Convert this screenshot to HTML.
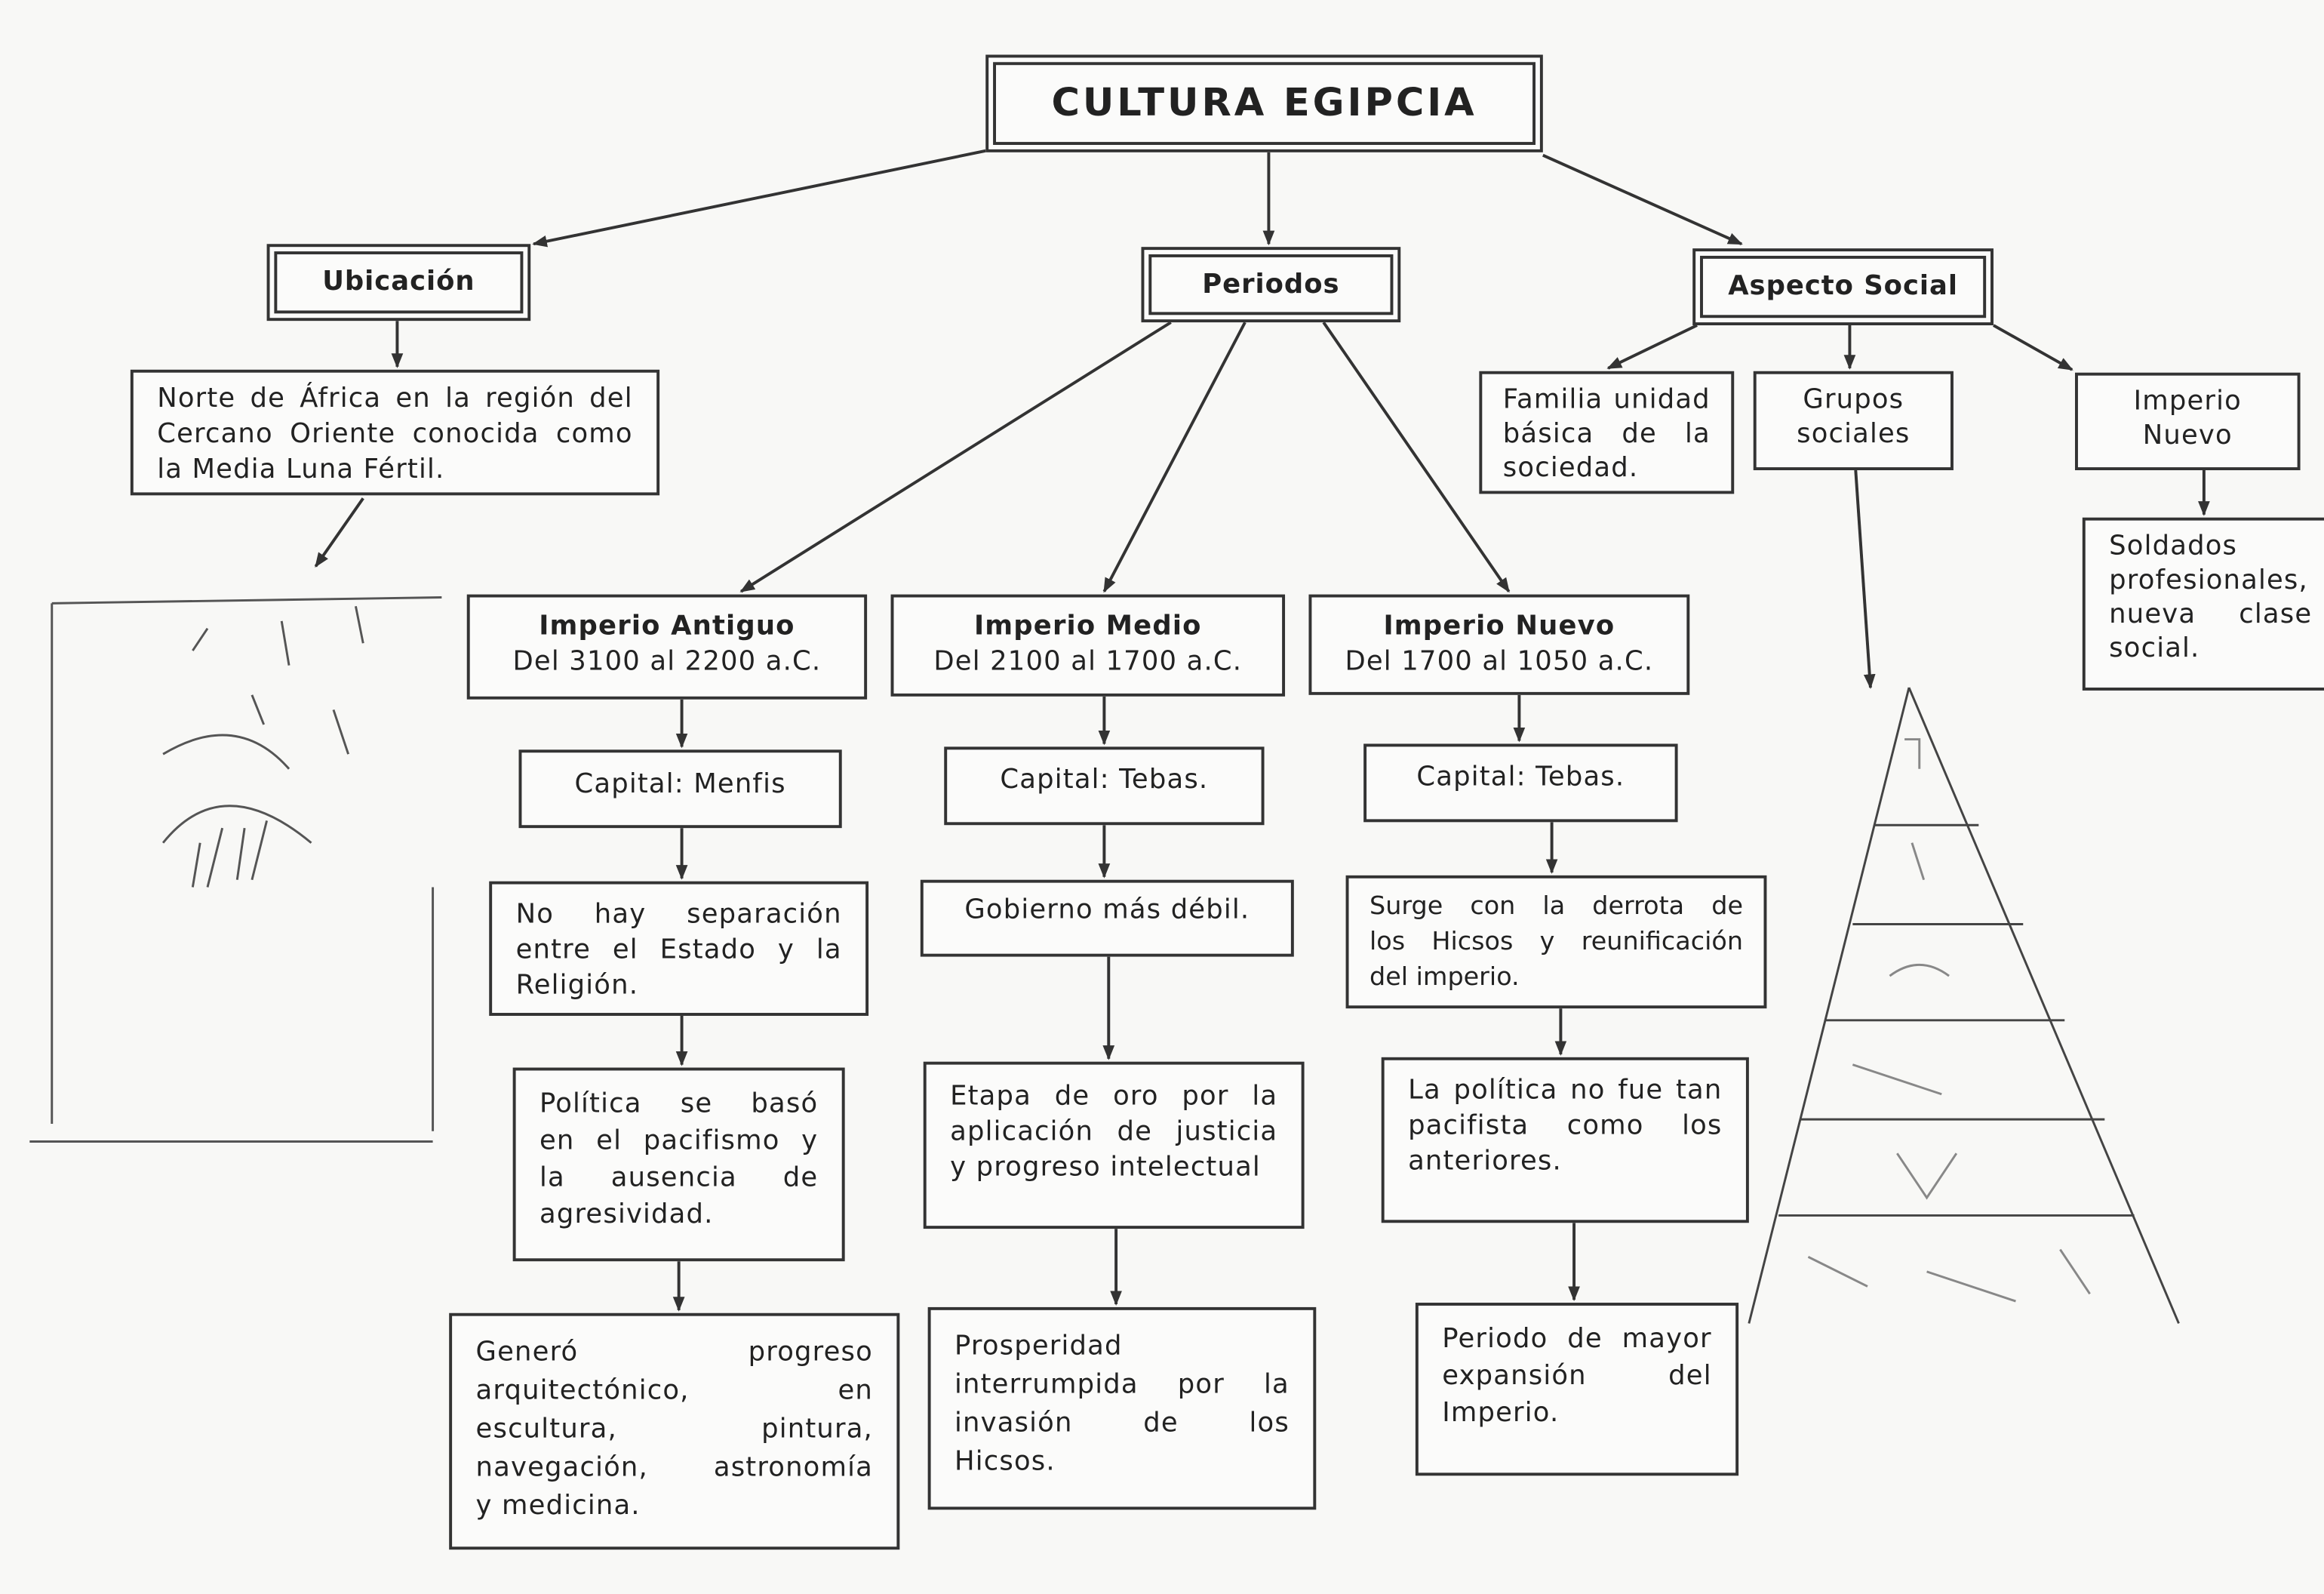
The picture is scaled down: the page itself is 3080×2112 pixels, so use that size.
<!DOCTYPE html>
<html><head><meta charset="utf-8">
<style>
html,body{margin:0;padding:0;background:#f8f8f6;}
#wrap{width:3080px;height:2112px;overflow:hidden;position:relative;background:#f8f8f6;}
#c{position:absolute;left:0;top:0;width:1568px;height:1078px;transform-origin:0 0;transform:scale(1.96429,1.95918);font-family:"DejaVu Sans","Liberation Sans",sans-serif;color:#222;}
.b{position:absolute;box-sizing:border-box;border:2px solid #333;background:#fbfbfa;font-size:18px;letter-spacing:0.6px;line-height:24px;padding:6px 16px;}
.b div{white-space:nowrap;text-align:justify;text-align-last:justify;}
.b div:last-child{text-align-last:left;}
.d{border:2px solid #333;outline:2px solid #333;outline-offset:-7px;text-align:center;font-weight:bold;font-size:18px;letter-spacing:0.5px;display:flex;align-items:center;justify-content:center;}
.cn{text-align:center;}
svg{position:absolute;left:0;top:0;}
</style></head><body><div id="wrap"><div id="c">
<svg width="1568" height="1078" viewBox="0 0 1568 1078">
<defs><marker id="a" markerWidth="10" markerHeight="10" refX="9" refY="5" orient="auto" markerUnits="userSpaceOnUse"><path d="M0,1 L10,5 L0,9 z" fill="#333"/></marker></defs>
<g stroke="#333" stroke-width="2" fill="none" marker-end="url(#a)">
<line x1="665" y1="102" x2="360" y2="165"/>
<line x1="856" y1="103" x2="856" y2="165"/>
<line x1="1041" y1="105" x2="1175" y2="165"/>
<line x1="268" y1="217" x2="268" y2="248"/>
<line x1="245" y1="337" x2="213" y2="383"/>
<line x1="790" y1="218" x2="500" y2="400"/>
<line x1="840" y1="218" x2="745" y2="400"/>
<line x1="893" y1="218" x2="1018" y2="400"/>
<line x1="460" y1="473" x2="460" y2="505"/>
<line x1="745" y1="471" x2="745" y2="503"/>
<line x1="1025" y1="470" x2="1025" y2="501"/>
<line x1="460" y1="560" x2="460" y2="594"/>
<line x1="745" y1="558" x2="745" y2="593"/>
<line x1="1047" y1="556" x2="1047" y2="590"/>
<line x1="460" y1="687" x2="460" y2="720"/>
<line x1="748" y1="647" x2="748" y2="716"/>
<line x1="1053" y1="682" x2="1053" y2="713"/>
<line x1="458" y1="853" x2="458" y2="886"/>
<line x1="753" y1="831" x2="753" y2="882"/>
<line x1="1062" y1="827" x2="1062" y2="879"/>
<line x1="1145" y1="220" x2="1085" y2="249"/>
<line x1="1248" y1="220" x2="1248" y2="249"/>
<line x1="1345" y1="220" x2="1398" y2="250"/>
<line x1="1487" y1="318" x2="1487" y2="348"/>
<line x1="1252" y1="318" x2="1262" y2="465"/>
</g>
<g stroke="#555" stroke-width="1.5" fill="none">
<path d="M35,408 L298,404"/><path d="M35,408 L35,760"/><path d="M20,772 L292,772"/><path d="M292,600 L292,765"/>
<path d="M110,510 Q160,480 195,520"/><path d="M110,570 Q150,520 210,570"/>
<path d="M130,440 l10,-15 M190,420 l5,30 M240,410 l5,25 M170,470 l8,20 M225,480 l10,30 M150,560 l-10,40 M165,560 l-5,35 M180,555 l-10,40 M135,570 l-5,30"/>
</g>
<g stroke="#444" stroke-width="1.5" fill="none">
<path d="M1288,465 L1180,895 M1288,465 L1470,895"/>
<line x1="1265" y1="558" x2="1335" y2="558"/>
<line x1="1250" y1="625" x2="1365" y2="625"/>
<line x1="1232" y1="690" x2="1393" y2="690"/>
<line x1="1215" y1="757" x2="1420" y2="757"/>
<line x1="1200" y1="822" x2="1440" y2="822"/>
<path d="M1285,500 l10,0 l0,20 M1290,570 l8,25 M1275,660 q20,-15 40,0 M1250,720 l60,20 M1280,780 l20,30 l20,-30 M1220,850 l40,20 M1300,860 l60,20 M1390,845 l20,30" stroke="#888"/>
</g>
</svg>

<div class="b d" style="left:665px;top:37px;width:376px;height:66px;font-size:26px;letter-spacing:2px;">CULTURA EGIPCIA</div>
<div class="b d" style="left:180px;top:165px;width:178px;height:52px;">Ubicación</div>
<div class="b d" style="left:770px;top:167px;width:175px;height:51px;">Periodos</div>
<div class="b d" style="left:1142px;top:168px;width:203px;height:52px;">Aspecto Social</div>

<div class="b" style="left:88px;top:250px;width:357px;height:85px;padding:6px 16px;"><div>Norte de África en la región del</div><div>Cercano Oriente conocida como</div><div>la Media Luna Fértil.</div></div>

<div class="b cn" style="left:315px;top:402px;width:270px;height:71px;padding:8px 4px 0;"><b>Imperio Antiguo</b><br>Del 3100 al 2200 a.C.</div>
<div class="b cn" style="left:601px;top:402px;width:266px;height:69px;padding:8px 4px 0;"><b>Imperio Medio</b><br>Del 2100 al 1700 a.C.</div>
<div class="b cn" style="left:883px;top:402px;width:257px;height:68px;padding:8px 4px 0;"><b>Imperio Nuevo</b><br>Del 1700 al 1050 a.C.</div>

<div class="b cn" style="left:350px;top:507px;width:218px;height:53px;padding-top:10px;">Capital: Menfis</div>
<div class="b cn" style="left:637px;top:505px;width:216px;height:53px;padding-top:9px;">Capital: Tebas.</div>
<div class="b cn" style="left:920px;top:503px;width:212px;height:53px;padding-top:9px;">Capital: Tebas.</div>

<div class="b" style="left:330px;top:596px;width:256px;height:91px;padding-top:9px;"><div>No hay separación</div><div>entre el Estado y la</div><div>Religión.</div></div>
<div class="b cn" style="left:621px;top:595px;width:252px;height:52px;padding-top:7px;">Gobierno más débil.</div>
<div class="b" style="left:908px;top:592px;width:284px;height:90px;padding:7px 14px;font-size:17px;letter-spacing:0;"><div>Surge con la derrota de</div><div>los Hicsos y reunificación</div><div>del imperio.</div></div>

<div class="b" style="left:346px;top:722px;width:224px;height:131px;padding-top:10px;line-height:25px;"><div>Política se basó</div><div>en el pacifismo y</div><div>la ausencia de</div><div>agresividad.</div></div>
<div class="b" style="left:623px;top:718px;width:257px;height:113px;padding-top:10px;"><div>Etapa de oro por la</div><div>aplicación de justicia</div><div>y progreso intelectual</div></div>
<div class="b" style="left:932px;top:715px;width:248px;height:112px;padding-top:9px;"><div>La política no fue tan</div><div>pacifista como los</div><div>anteriores.</div></div>

<div class="b" style="left:303px;top:888px;width:304px;height:160px;padding-top:12px;line-height:26px;"><div>Generó progreso</div><div>arquitectónico, en</div><div>escultura, pintura,</div><div>navegación, astronomía</div><div>y medicina.</div></div>
<div class="b" style="left:626px;top:884px;width:262px;height:137px;padding-top:12px;line-height:26px;"><div>Prosperidad</div><div>interrumpida por la</div><div>invasión de los</div><div>Hicsos.</div></div>
<div class="b" style="left:955px;top:881px;width:218px;height:117px;padding-top:10px;line-height:25px;"><div>Periodo de mayor</div><div>expansión del</div><div>Imperio.</div></div>

<div class="b" style="left:998px;top:251px;width:172px;height:83px;padding:6px 14px;line-height:23px;"><div>Familia unidad</div><div>básica de la</div><div>sociedad.</div></div>
<div class="b cn" style="left:1183px;top:251px;width:135px;height:67px;padding:6px 4px;line-height:23px;">Grupos<br>sociales</div>
<div class="b cn" style="left:1400px;top:252px;width:152px;height:66px;padding:6px 4px;line-height:23px;">Imperio<br>Nuevo</div>
<div class="b" style="left:1405px;top:350px;width:175px;height:117px;padding:6px 18px 6px 16px;line-height:23px;"><div>Soldados</div><div>profesionales,</div><div>nueva clase</div><div>social.</div></div>
</div></div></body></html>
